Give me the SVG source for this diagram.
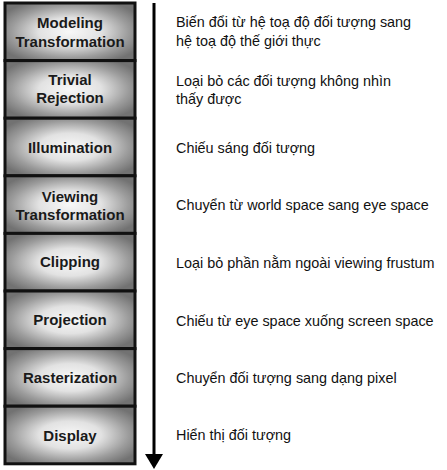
<svg xmlns="http://www.w3.org/2000/svg" width="447" height="470" viewBox="0 0 447 470">
<defs>
<radialGradient id="g" cx="0.5" cy="0.5" r="0.6">
<stop offset="0" stop-color="#f8f8f8"/>
<stop offset="0.4" stop-color="#e2e2e2"/>
<stop offset="0.75" stop-color="#9c9c9c"/>
<stop offset="1" stop-color="#727272"/>
</radialGradient>
<style>
.box{fill:url(#g);stroke:#111;stroke-width:3}
.lbl{font-family:"Liberation Sans",Arial,sans-serif;font-weight:bold;font-size:15px;fill:#1a1a1a;text-anchor:middle}
.desc{font-family:"Liberation Sans",Arial,sans-serif;font-size:14.4px;fill:#111}
</style>
</defs>
<rect width="447" height="470" fill="#fff"/>
<g id="modeling"><rect class="box" x="5" y="3" width="130" height="57.6"/><text class="lbl" x="70" y="28">Modeling</text><text class="lbl" x="70" y="47">Transformation</text></g>
<g id="trivial"><rect class="box" x="5" y="60.6" width="130" height="57.6"/><text class="lbl" x="70" y="85">Trivial</text><text class="lbl" x="70" y="103">Rejection</text></g>
<g id="illumination"><rect class="box" x="5" y="118.2" width="130" height="57.6"/><text class="lbl" x="70" y="153">Illumination</text></g>
<g id="viewing"><rect class="box" x="5" y="175.8" width="130" height="57.6"/><text class="lbl" x="70" y="202">Viewing</text><text class="lbl" x="70" y="220">Transformation</text></g>
<g id="clipping"><rect class="box" x="5" y="233.4" width="130" height="57.6"/><text class="lbl" x="70" y="267">Clipping</text></g>
<g id="projection"><rect class="box" x="5" y="291" width="130" height="57.6"/><text class="lbl" x="70" y="325">Projection</text></g>
<g id="rasterization"><rect class="box" x="5" y="348.6" width="130" height="57.6"/><text class="lbl" x="70" y="383">Rasterization</text></g>
<g id="display"><rect class="box" x="5" y="406.2" width="130" height="57.6"/><text class="lbl" x="70" y="441">Display</text></g>
<g id="connectors">
<line x1="154" y1="3" x2="154" y2="456" stroke="#000" stroke-width="3"/>
<polygon points="145,454 163,454 154,469" fill="#000"/>
</g>
<g id="descriptions">
<text class="desc" x="176" y="27">Biến đổi từ hệ toạ độ đối tượng sang</text>
<text class="desc" x="176" y="46">hệ toạ độ thế giới thực</text>
<text class="desc" x="176" y="86">Loại bỏ các đối tượng không nhìn</text>
<text class="desc" x="176" y="104">thấy được</text>
<text class="desc" x="176" y="153">Chiếu sáng đối tượng</text>
<text class="desc" x="176" y="210">Chuyển từ world space sang eye space</text>
<text class="desc" x="176" y="268">Loại bỏ phần nằm ngoài viewing frustum</text>
<text class="desc" x="176" y="326">Chiếu từ eye space xuống screen space</text>
<text class="desc" x="176" y="383">Chuyển đối tượng sang dạng pixel</text>
<text class="desc" x="176" y="440">Hiển thị đối tượng</text>
</g>
</svg>
